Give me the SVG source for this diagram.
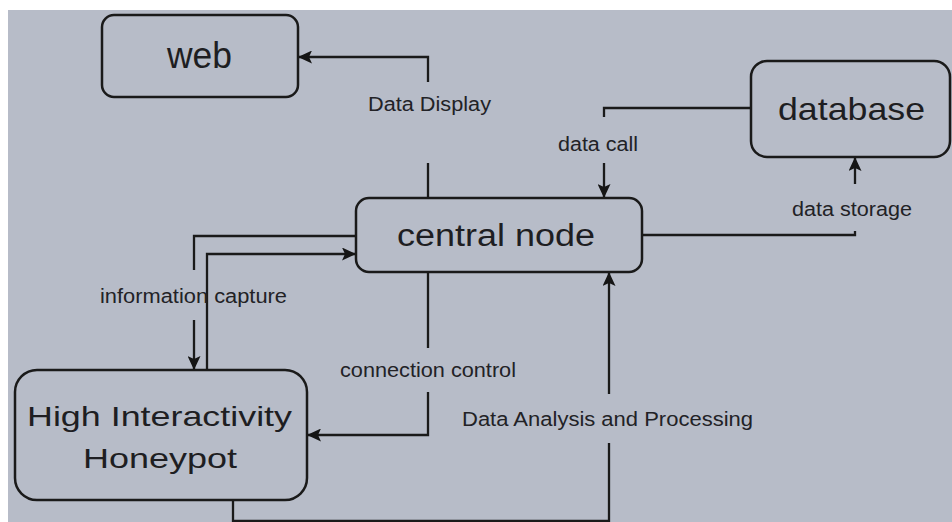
<svg xmlns="http://www.w3.org/2000/svg" width="952" height="522" viewBox="0 0 952 522">
<defs>
<marker id="ah" markerUnits="userSpaceOnUse" markerWidth="15" markerHeight="13" refX="14" refY="6.5" orient="auto">
<path d="M0,0 L14,6.5 L0,13 L3,6.5 Z" fill="#151515"/>
</marker>
<style>
.box{fill:none;stroke:#1a1a1a;stroke-width:2.5}
.ln{fill:none;stroke:#1a1a1a;stroke-width:2.3}
.nt{font-family:"Liberation Sans",Arial,sans-serif;fill:#1e1e22}
.lb{font-family:"Liberation Sans",Arial,sans-serif;font-size:19.5px;fill:#222226}
</style>
</defs>
<rect x="0" y="0" width="952" height="522" fill="#ffffff"/>
<rect x="8" y="10" width="944" height="512" fill="#b7bcc8"/>
<g id="connectors">
<path class="ln" d="M428,198 V163"/>
<path class="ln" d="M428,82 V57 H298" marker-end="url(#ah)"/>
<path class="ln" d="M752,108 H604 V117"/>
<path class="ln" d="M604,163 V198" marker-end="url(#ah)"/>
<path class="ln" d="M642,235 H855 V231"/>
<path class="ln" d="M855,184 V157" marker-end="url(#ah)"/>
<path class="ln" d="M356,236 H194 V270"/>
<path class="ln" d="M194,320 V370" marker-end="url(#ah)"/>
<path class="ln" d="M207,370 V254 H356" marker-end="url(#ah)"/>
<path class="ln" d="M428,272 V348"/>
<path class="ln" d="M428,392 V435 H307" marker-end="url(#ah)"/>
<path class="ln" d="M233,500 V521 H609 V443"/>
<path class="ln" d="M609,394 V272" marker-end="url(#ah)"/>
<text class="lb" x="368" y="111" textLength="123" lengthAdjust="spacingAndGlyphs">Data Display</text>
<text class="lb" x="558" y="151" textLength="80" lengthAdjust="spacingAndGlyphs">data call</text>
<text class="lb" x="792" y="216" textLength="120" lengthAdjust="spacingAndGlyphs">data storage</text>
<text class="lb" x="100" y="303" textLength="187" lengthAdjust="spacingAndGlyphs">information capture</text>
<text class="lb" x="340" y="377" textLength="176" lengthAdjust="spacingAndGlyphs">connection control</text>
<text class="lb" x="462" y="426" textLength="291" lengthAdjust="spacingAndGlyphs">Data Analysis and Processing</text>
</g>
<g id="web">
<rect class="box" x="102" y="15" width="196" height="82" rx="12"/>
<text class="nt" x="167" y="68" font-size="36" textLength="65" lengthAdjust="spacingAndGlyphs">web</text>
</g>
<g id="central-node">
<rect class="box" x="356" y="198" width="286" height="74" rx="13"/>
<text class="nt" x="397" y="246" font-size="31" textLength="198" lengthAdjust="spacingAndGlyphs">central node</text>
</g>
<g id="database">
<rect class="box" x="751" y="61" width="199" height="96" rx="16"/>
<text class="nt" x="778" y="120" font-size="32" textLength="147" lengthAdjust="spacingAndGlyphs">database</text>
</g>
<g id="honeypot">
<rect class="box" x="15" y="370" width="292" height="130" rx="22"/>
<text class="nt" x="27" y="426" font-size="28" textLength="265" lengthAdjust="spacingAndGlyphs">High Interactivity</text>
<text class="nt" x="83" y="468" font-size="28" textLength="154" lengthAdjust="spacingAndGlyphs">Honeypot</text>
</g>
</svg>
